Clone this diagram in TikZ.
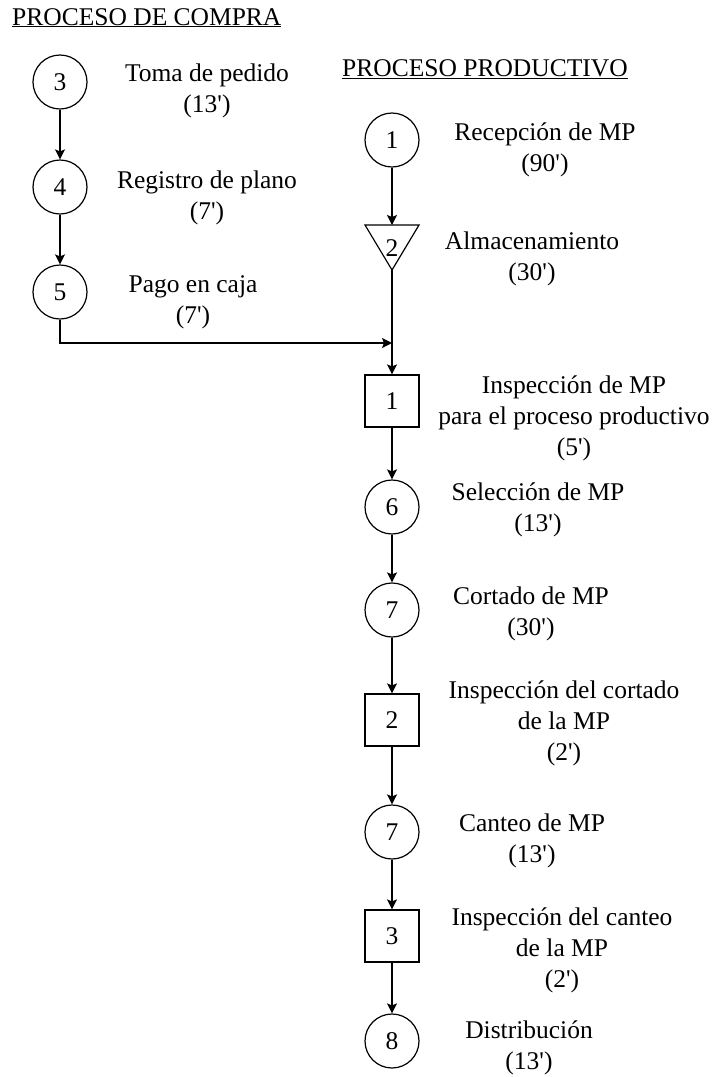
\documentclass[tikz,border=0pt]{standalone}
\usepackage{fontspec}
\setmainfont{Liberation Serif}
\usepackage{tikz}
\usetikzlibrary{arrows.meta,positioning}
\newcommand{\tmin}[1]{(#1\textquotesingle)}

\begin{document}
\begin{tikzpicture}[x=1pt,y=-1pt,
		txt/.style={font=\fontsize{25.5}{31}\selectfont},
		op/.style={draw,circle,line width=1.2pt,minimum size=54pt,inner sep=0pt,txt},
		insp/.style={draw,rectangle,line width=1.2pt,minimum width=54pt,minimum height=52pt,inner sep=0pt,txt},
		lbl/.style={txt,align=center,inner sep=0pt},
		flow/.style={line width=1.2pt,-{Stealth[length=10pt,width=10pt,inset=2pt]}}]
		\useasboundingbox (0,0) rectangle (715,1077);
		
		% titulos
		\node[txt,anchor=base west,inner sep=0pt] (tcompra) at (12,25) {\underline{PROCESO DE COMPRA}};
		\node[txt,anchor=base west,inner sep=0pt] (tprod) at (342,76) {\underline{PROCESO PRODUCTIVO}};
		
		% proceso de compra
		\node[op] (c3) at (60,82) {3};
		\node[op] (c4) at (60,187) {4};
		\node[op] (c5) at (60,292) {5};
		\node[lbl] (l3) at (207,91) {Toma de pedido\\\tmin{13}};
		\node[lbl] (l4) at (207,198) {Registro de plano\\\tmin{7}};
		\node[lbl] (l5) at (193,302) {Pago en caja\\\tmin{7}};
		
		% proceso productivo
		\node[op] (p1) at (392,140) {1};
		\coordinate (alm-top) at (392,225);
		\coordinate (alm-bot) at (392,270);
		\draw[line width=1.2pt,line join=miter] (365,225) -- (419,225) -- (alm-bot) -- cycle;
		\node[txt,inner sep=0pt] (alm) at (392,248) {2};
		\coordinate (union) at (392,343);
		\node[insp] (i1) at (392,401) {1};
		\node[op] (p6) at (392,507) {6};
		\node[op] (p7) at (392,610) {7};
		\node[insp] (i2) at (392,720) {2};
		\node[op] (p7b) at (392,832) {7};
		\node[insp] (i3) at (392,936) {3};
		\node[op] (p8) at (392,1041) {8};
		
		\node[lbl] (lp1) at (545,150) {Recepción de MP\\\tmin{90}};
		\node[lbl] (lalm) at (532,259) {Almacenamiento\\\tmin{30}};
		\node[lbl] (li1) at (574,418) {Inspección de MP\\para el proceso productivo\\\tmin{5}};
		\node[lbl] (lp6) at (538,510) {Selección de MP\\\tmin{13}};
		\node[lbl] (lp7) at (531,614) {Cortado de MP\\\tmin{30}};
		\node[lbl] (li2) at (564,723) {Inspección del cortado\\de la MP\\\tmin{2}};
		\node[lbl] (lp7b) at (532,841) {Canteo de MP\\\tmin{13}};
		\node[lbl] (li3) at (562,950) {Inspección del canteo\\de la MP\\\tmin{2}};
		\node[lbl] (lp8) at (529,1048) {Distribución\\\tmin{13}};
		
		% flechas
		\draw[flow] (c3) -- (c4);
		\draw[flow] (c4) -- (c5);
		\draw[flow] (c5.south) |- (union);
		\draw[flow] (p1) -- (alm-top);
		\draw[flow] (alm-bot) -- (i1.north);
		\draw[flow] (i1) -- (p6);
		\draw[flow] (p6) -- (p7);
		\draw[flow] (p7) -- (i2);
		\draw[flow] (i2) -- (p7b);
		\draw[flow] (p7b) -- (i3);
		\draw[flow] (i3) -- (p8);
\end{tikzpicture}
\end{document}
